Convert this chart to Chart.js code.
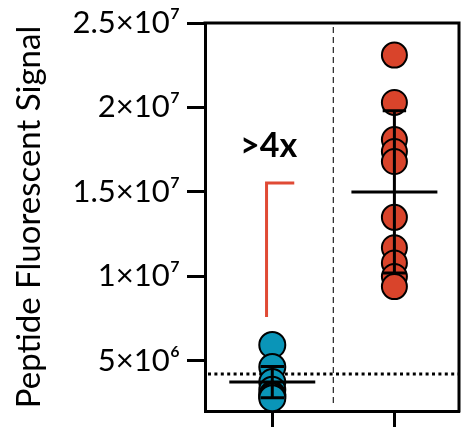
<!DOCTYPE html>
<html>
<head>
<meta charset="utf-8">
<script src="https://cdn.jsdelivr.net/npm/chart.js@4/dist/chart.umd.min.js"></script>
<style>
html,body{margin:0;padding:0;background:#fff;}
#wrap{width:474px;height:427px;position:relative;}
</style>
</head>
<body>
<div id="wrap"><canvas id="c" width="474" height="427"></canvas></div>
<script>
// ---- data ----
const categories = ['Control', 'Treated'];
const controlValues = [5.95e6, 4.65e6, 3.75e6, 3.3e6, 3.0e6, 2.9e6, 2.8e6];
const treatedValues = [2.31e7, 2.03e7, 1.81e7, 1.74e7, 1.68e7, 1.35e7, 1.17e7, 1.08e7, 1.0e7, 9.4e6];
const groupMeans = [3.75e6, 1.5e7];
const groupSDs = [0.93e6, 0.48e7];
const thresholdValue = 4.23e6;
const yTickValues = [5e6, 1e7, 1.5e7, 2e7, 2.5e7];
const yTickLabels = ['5×10⁶', '1×10⁷', '1.5×10⁷', '2×10⁷', '2.5×10⁷'];
const foldLabel = '>4x';
const bracketPoints = [{x: -0.047, y: 7.6e6}, {x: -0.047, y: 1.553e7}, {x: 0.18, y: 1.553e7}];
const foldLabelPos = {x: -0.03, y: 1.77e7};

const BLUE = '#0a95b8', RED = '#d9442b', BRACKET = '#e04a35';
const MEAN_HALF = 0.352, CAP_HALF = 0.096;

function meanLine(i) {
  return [{x: i - MEAN_HALF, y: groupMeans[i]}, {x: i + MEAN_HALF, y: groupMeans[i]}];
}
function errBar(i) {
  const lo = groupMeans[i] - groupSDs[i], hi = groupMeans[i] + groupSDs[i];
  return [
    {x: i - CAP_HALF, y: hi}, {x: i + CAP_HALF, y: hi}, {x: NaN, y: NaN},
    {x: i, y: hi}, {x: i, y: lo}, {x: NaN, y: NaN},
    {x: i - CAP_HALF, y: lo}, {x: i + CAP_HALF, y: lo}
  ];
}
const lineDs = (data, color, width, order) => ({
  type: 'line', data, borderColor: color, borderWidth: width, pointRadius: 0,
  fill: false, spanGaps: false, order, tension: 0
});

const framePlugin = {
  id: 'frame',
  beforeDatasetsDraw(chart) {
    const {ctx, chartArea: a, scales: {x, y}} = chart;
    ctx.save();
    ctx.strokeStyle = '#333'; ctx.lineWidth = 1.3; ctx.setLineDash([6, 4]);
    const xm = x.getPixelForValue(0.5);
    ctx.beginPath(); ctx.moveTo(xm, a.top + 4); ctx.lineTo(xm, a.bottom - 8); ctx.stroke();
    ctx.strokeStyle = '#000'; ctx.lineWidth = 3; ctx.setLineDash([3, 3.4]);
    const yt = y.getPixelForValue(thresholdValue);
    ctx.beginPath(); ctx.moveTo(a.left + 3, yt); ctx.lineTo(a.right, yt); ctx.stroke();
    ctx.restore();
  },
  afterDraw(chart) {
    const {ctx, chartArea: a, scales: {x, y}} = chart;
    ctx.save();
    ctx.strokeStyle = '#000'; ctx.lineWidth = 3; ctx.setLineDash([]);
    ctx.beginPath();
    ctx.moveTo(a.left - 1.5, a.top); ctx.lineTo(a.right, a.top); ctx.lineTo(a.right, a.bottom + 1.5);
    ctx.stroke();
    ctx.fillStyle = '#000';
    ctx.font = 'bold 34px Lato, "Liberation Sans", sans-serif';
    ctx.textAlign = 'center'; ctx.textBaseline = 'middle';
    ctx.fillText(foldLabel, x.getPixelForValue(foldLabelPos.x), y.getPixelForValue(foldLabelPos.y));
    ctx.restore();
  }
};

new Chart(document.getElementById('c'), {
  type: 'scatter',
  data: {
    datasets: [
      lineDs(meanLine(0), '#000', 3, 1),
      lineDs(meanLine(1), '#000', 3, 1),
      lineDs(errBar(0), '#000', 3, 1),
      lineDs(errBar(1), '#000', 3, 1),
      lineDs(bracketPoints, BRACKET, 3, 1),
      {label: categories[0], data: controlValues.map(v => ({x: 0, y: v})),
       backgroundColor: BLUE, borderColor: '#000', borderWidth: 2, pointRadius: 13, order: 2},
      {label: categories[1], data: treatedValues.map(v => ({x: 1, y: v})),
       backgroundColor: RED, borderColor: '#000', borderWidth: 2, pointRadius: 12.5, order: 2}
    ]
  },
  options: {
    responsive: false, animation: false,
    layout: {padding: {top: 23, right: 9, left: 0, bottom: 0}},
    plugins: {legend: {display: false}, tooltip: {enabled: false}},
    scales: {
      x: {
        type: 'linear', min: -0.551, max: 1.529,
        afterBuildTicks: s => { s.ticks = [{value: 0}, {value: 1}]; },
        afterFit: s => { s.height = 16; s.paddingLeft = 0; s.paddingRight = 0; },
        ticks: {callback: () => '', padding: 0},
        grid: {drawOnChartArea: false, tickLength: 18, tickWidth: 3, tickColor: '#000'},
        border: {width: 3, color: '#000'}
      },
      y: {
        type: 'linear', min: 2.04e6, max: 2.5e7,
        afterBuildTicks: s => { s.ticks = yTickValues.map(v => ({value: v})); },
        afterFit: s => { s.width = 205; s.paddingTop = 0; s.paddingBottom = 0; },
        ticks: {
          callback: (v) => { const i = yTickValues.indexOf(v); return i >= 0 ? yTickLabels[i] : ''; },
          color: '#000', padding: 7,
          font: {family: 'Lato, "Liberation Sans", sans-serif', size: 31}
        },
        grid: {drawOnChartArea: false, tickLength: 18, tickWidth: 3, tickColor: '#000'},
        border: {width: 3, color: '#000'},
        title: {display: true, text: 'Peptide Fluorescent Signal', color: '#000', padding: {top: 10, bottom: 0},
                font: {family: 'Lato, "Liberation Sans", sans-serif', size: 33}}
      }
    }
  },
  plugins: [framePlugin]
});
</script>
</body>
</html>
